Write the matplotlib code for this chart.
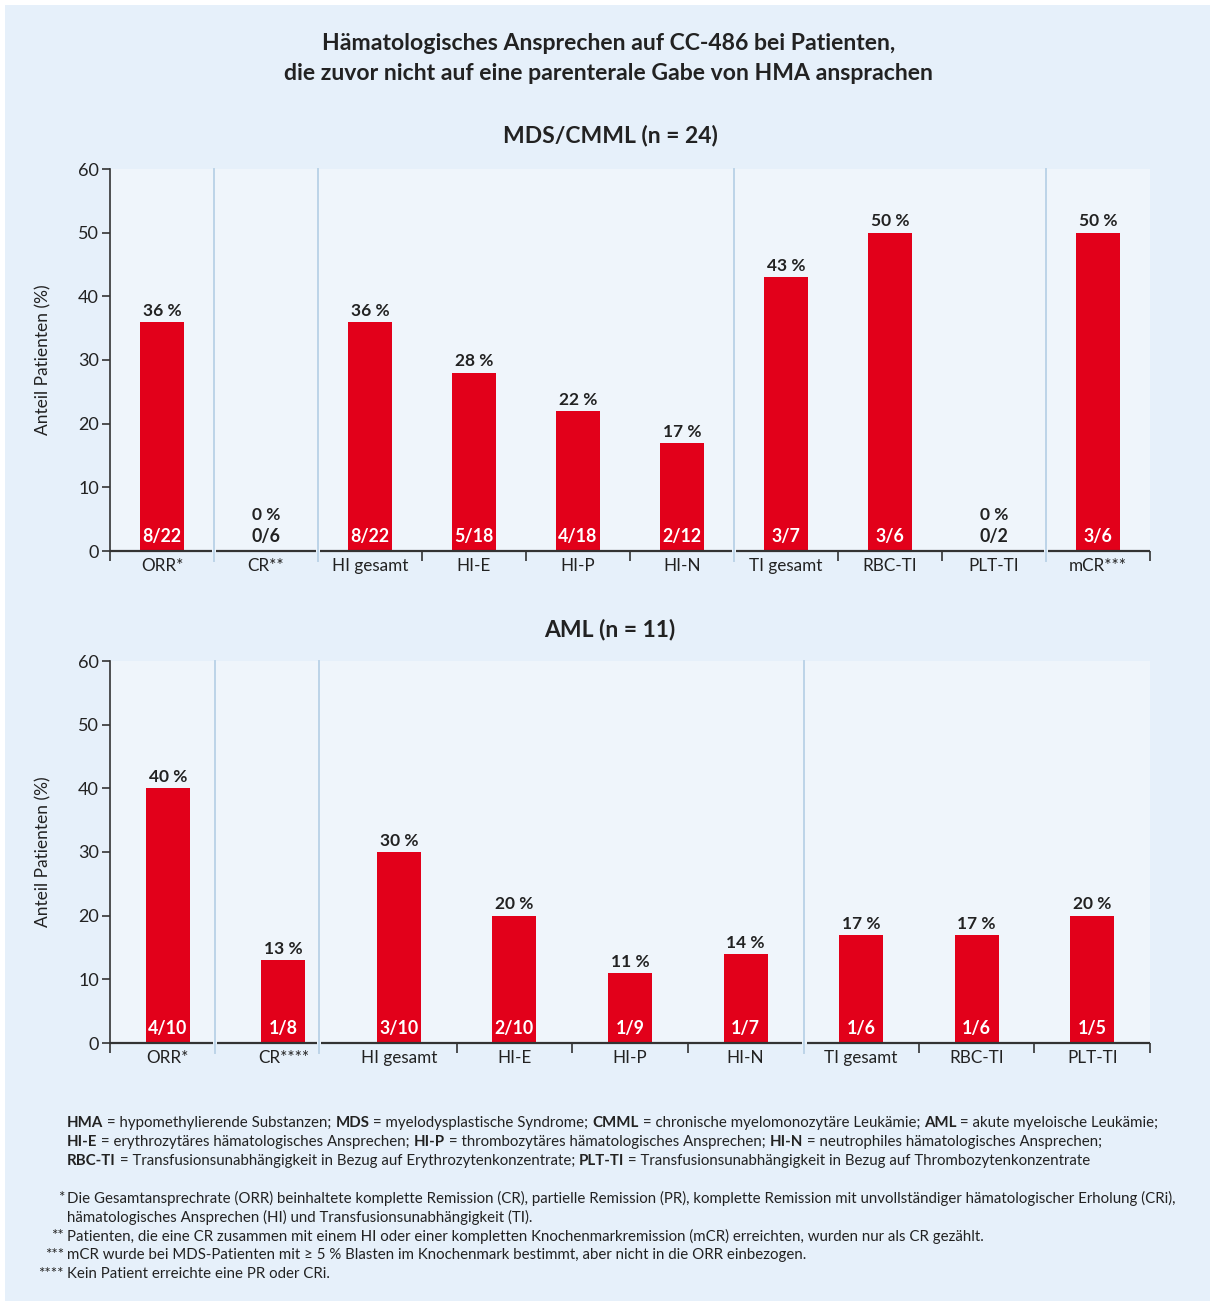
import numpy as np
import matplotlib
matplotlib.use("Agg")
import matplotlib.pyplot as plt
from matplotlib.patches import Rectangle

# ---------------- data ----------------
title_lines = ["Hämatologisches Ansprechen auf CC-486 bei Patienten,",
               "die zuvor nicht auf eine parenterale Gabe von HMA ansprachen"]

mds_title = "MDS/CMML (n = 24)"
mds_categories = ["ORR*", "CR**", "HI gesamt", "HI-E", "HI-P", "HI-N",
                  "TI gesamt", "RBC-TI", "PLT-TI", "mCR***"]
mds_values = [36, 0, 36, 28, 22, 17, 43, 50, 0, 50]
mds_fractions = ["8/22", "0/6", "8/22", "5/18", "4/18", "2/12", "3/7", "3/6", "0/2", "3/6"]

aml_title = "AML (n = 11)"
aml_categories = ["ORR*", "CR****", "HI gesamt", "HI-E", "HI-P", "HI-N",
                  "TI gesamt", "RBC-TI", "PLT-TI"]
aml_values = [40, 13, 30, 20, 11, 14, 17, 17, 20]
aml_fractions = ["4/10", "1/8", "3/10", "2/10", "1/9", "1/7", "1/6", "1/6", "1/5"]

y_label = "Anteil Patienten (%)"
y_ticks = [0, 10, 20, 30, 40, 50, 60]

abbrev_lines = [
    [("HMA", True), (" = hypomethylierende Substanzen; ", False), ("MDS", True),
     (" = myelodysplastische Syndrome; ", False), ("CMML", True),
     (" = chronische myelomonozytäre Leukämie; ", False), ("AML", True),
     (" = akute myeloische Leukämie;", False)],
    [("HI-E", True), (" = erythrozytäres hämatologisches Ansprechen; ", False), ("HI-P", True),
     (" = thrombozytäres hämatologisches Ansprechen; ", False), ("HI-N", True),
     (" = neutrophiles hämatologisches Ansprechen;", False)],
    [("RBC-TI", True), (" = Transfusionsunabhängigkeit in Bezug auf Erythrozytenkonzentrate; ", False),
     ("PLT-TI", True), (" = Transfusionsunabhängigkeit in Bezug auf Thrombozytenkonzentrate", False)],
]
note_lines = [
    ("*", "Die Gesamtansprechrate (ORR) beinhaltete komplette Remission (CR), partielle Remission (PR), komplette Remission mit unvollständiger hämatologischer Erholung (CRi),"),
    ("", "hämatologisches Ansprechen (HI) und Transfusionsunabhängigkeit (TI)."),
    ("**", "Patienten, die eine CR zusammen mit einem HI oder einer kompletten Knochenmarkremission (mCR) erreichten, wurden nur als CR gezählt."),
    ("***", "mCR wurde bei MDS-Patienten mit ≥ 5 % Blasten im Knochenmark bestimmt, aber nicht in die ORR einbezogen."),
    ("****", "Kein Patient erreichte eine PR oder CRi."),
]

# ---------------- style ----------------
FONT = ["Lato", "DejaVu Sans"]
plt.rcParams["font.family"] = FONT
RED = "#e2001a"
TXT = "#222222"
AXC = "#333333"
OUTER = "#e6f0fa"
INNER = "#eff5fb"
SEP = "#bcd4e8"

W, H = 1210, 1301
fig = plt.figure(figsize=(W / 100, H / 100), dpi=100)
fig.patch.set_facecolor("white")
fig.add_artist(Rectangle((5 / W, 0), 1 - 5 / W, 1 - 5 / H, transform=fig.transFigure,
                         facecolor=OUTER, edgecolor="none", zorder=-10))

def fx(px):
    return px / W

def fy(py):
    return 1 - py / H

for line, py in zip(title_lines, [44, 74]):
    fig.text(0.503, fy(py), line, ha="center", va="center", fontsize=16.6,
             fontweight="bold", color=TXT)

def panel(top_px, bottom_px, cats, vals, fracs, seps, bounds, barw, subtitle, sub_py):
    ax = fig.add_axes([fx(110), fy(bottom_px), fx(1150) - fx(110), fy(top_px) - fy(bottom_px)])
    ax.set_facecolor(INNER)
    n = len(cats)
    x = np.arange(n)
    ax.bar(x, vals, width=barw, color=RED, zorder=3)
    ax.set_xlim(-0.5, n - 0.5)
    ax.set_ylim(0, 60)
    ax.set_yticks(y_ticks)
    ax.set_xticks(x)
    ax.set_xticklabels(cats)
    ax.tick_params(axis="x", which="major", length=0, pad=5, labelsize=12.3, labelcolor=TXT)
    ax.set_xticks(bounds, minor=True)
    ax.tick_params(axis="x", which="minor", length=7.5, width=1.2, color=AXC, direction="out")
    ax.tick_params(axis="y", length=6, width=1.2, color=AXC, labelsize=13, labelcolor=TXT, pad=2)
    for s in ["top", "right", "bottom"]:
        ax.spines[s].set_visible(False)
    ax.spines["left"].set_color(AXC)
    ax.spines["left"].set_linewidth(1.2)
    # separators
    for s in seps:
        ax.plot([s, s], [-1.6, 60], color=SEP, lw=1.4, clip_on=False, zorder=2)
    # axis line in segments with gaps at separators
    edges = [-0.5] + list(seps) + [n - 0.5]
    g = 0.02
    for i in range(len(edges) - 1):
        a = edges[i] + (g if i > 0 else 0)
        b = edges[i + 1] - (g if i < len(edges) - 2 else 0)
        ax.plot([a, b], [0, 0], color=AXC, lw=1.6, clip_on=False, zorder=4,
                solid_capstyle="butt")
    for xi, v, f in zip(x, vals, fracs):
        if v > 0:
            ax.annotate(f"{v} %", (xi, v), xytext=(0, 4.5), textcoords="offset points",
                        ha="center", va="baseline", fontsize=12.5, fontweight="bold", color=TXT)
            ax.annotate(f, (xi, 0), xytext=(0, 6.5), textcoords="offset points",
                        ha="center", va="baseline", fontsize=12.8, fontweight="bold",
                        color="white", zorder=5)
        else:
            ax.annotate(f"{v} %", (xi, 0), xytext=(0, 22.5), textcoords="offset points",
                        ha="center", va="baseline", fontsize=12.5, fontweight="bold", color=TXT)
            ax.annotate(f, (xi, 0), xytext=(0, 6.5), textcoords="offset points",
                        ha="center", va="baseline", fontsize=12.8, fontweight="bold",
                        color=TXT, zorder=5)
    ax.set_ylabel(y_label, fontsize=12.5, color=TXT)
    ax.yaxis.set_label_coords((51 - 110) / 1040, 0.5)
    fig.text(fx(610), fy(sub_py), subtitle, ha="center", va="center", fontsize=16.5,
             fontweight="bold", color=TXT)
    return ax

panel(169, 551, mds_categories, mds_values, mds_fractions,
      seps=[0.5, 1.5, 5.5, 8.5], bounds=[-0.5, 2.5, 3.5, 4.5, 6.5, 7.5, 9.5],
      barw=0.42, subtitle=mds_title, sub_py=135)
panel(661, 1043, aml_categories, aml_values, aml_fractions,
      seps=[0.41, 1.31, 5.51], bounds=[-0.5, 2.5, 3.5, 4.5, 6.5, 7.5, 8.5],
      barw=0.38, subtitle=aml_title, sub_py=629)

# ---------------- footnotes ----------------
renderer = fig.canvas.get_renderer()

def text_width(s, size, bold):
    t1 = fig.text(0, 0, "|" + s + "|", fontsize=size,
                  fontweight="bold" if bold else "normal")
    t2 = fig.text(0, 0, "||", fontsize=size,
                  fontweight="bold" if bold else "normal")
    w = t1.get_window_extent(renderer).width - t2.get_window_extent(renderer).width
    t1.remove(); t2.remove()
    return w

# fit size so the first abbreviation line spans about 1093 px
base = 10.0
w0 = sum(text_width(s, base, b) for s, b in abbrev_lines[0])
FN = base * 1093 / w0
FN = min(FN, 11.0)

def rich(px, py, parts):
    x = px
    for s, b in parts:
        fig.text(fx(x), fy(py), s, fontsize=FN,
                 fontweight="bold" if b else "normal", color=TXT, va="center", ha="left")
        x += text_width(s, FN, b)

for parts, py in zip(abbrev_lines, [1123, 1142, 1161]):
    rich(67, py, parts)

for (star, txt), py in zip(note_lines, [1198, 1217, 1236, 1255, 1274]):
    if star:
        fig.text(fx(64), fy(py), star, fontsize=FN, color=TXT,
                 va="center", ha="right")
    fig.text(fx(67), fy(py), txt, fontsize=FN, color=TXT,
             va="center", ha="left")

fig.savefig("out.png", dpi=100)
